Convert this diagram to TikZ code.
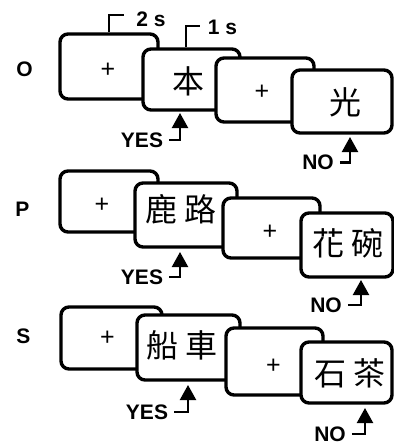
\documentclass[tikz,border=0pt]{standalone}
\usepackage{fontspec}
\setmainfont{Liberation Sans}
\newfontfamily\cjk{Noto Sans CJK TC}
\usetikzlibrary{arrows.meta,calc}
\begin{document}
\begin{tikzpicture}[x=1pt,y=-1pt,
  trial/.style={draw=black, line width=3.4pt, fill=white, rounded corners=8pt, inner sep=0pt},
  lbl/.style={font=\fontsize{21}{21}\selectfont\bfseries, inner sep=0pt},
  tlbl/.style={font=\fontsize{21}{21}\selectfont\bfseries, inner sep=0pt},
  fix/.style={font=\fontsize{25}{25}\selectfont, inner sep=0pt},
  word/.style={font=\cjk\fontsize{32}{32}\selectfont, inner sep=0pt},
  brk/.style={line width=2.2pt},
  resp/.style={line width=2.2pt, shorten <=6pt, -{Triangle[width=16pt,length=15pt]}},
]
\useasboundingbox (0,0) rectangle (394,445);
% ---------- Row O ----------
\node[lbl] (lO) at (24.5,69) {O};
\node[trial, minimum width=98pt, minimum height=65pt] (O1) at (109,66.5) {};
\node[fix] (o1t) at (108,70) {+};
\node[trial, minimum width=97pt, minimum height=61pt] (O2) at (191.5,79.5) {};
\node[word] (o2t) at (188,81) {本};
\node[trial, minimum width=98pt, minimum height=64pt] (O3) at (265,90) {};
\node[fix] (o3t) at (262,92) {+};
\node[trial, minimum width=100pt, minimum height=63pt] (O4) at (342,101.5) {};
\node[word] (o4t) at (345,102) {光};
% timing brackets
\node[tlbl] (t2) at (151,19) {2 s};
\draw[brk] (O1.north) |- ++(15,-17) coordinate (t2end);
\node[tlbl] (t1) at (222.5,27) {1 s};
\draw[brk] ($(O2.north)+(-5.5,0)$) |- ++(14,-21) coordinate (t1end);
% responses
\coordinate (oyT) at (180,113);
\node[lbl] (oy) at (142,140) {YES};
\draw[resp] (oy.east) -| (oyT);
\coordinate (onT) at (350,137);
\node[lbl] (on) at (318,162.5) {NO};
\draw[resp] (on.east) -| (onT);
% ---------- Row P ----------
\node[lbl] (lP) at (22.5,209) {P};
\node[trial, minimum width=98pt, minimum height=61pt] (P1) at (109,201.5) {};
\node[fix] (p1t) at (102,205) {+};
\node[trial, minimum width=102pt, minimum height=64pt] (P2) at (186,215) {};
\node[word] (p2t) at (181,209) {鹿 路};
\node[trial, minimum width=97pt, minimum height=60pt] (P3) at (271.5,228) {};
\node[fix] (p3t) at (270,232.5) {+};
\node[trial, minimum width=92pt, minimum height=64pt] (P4) at (347,245) {};
\node[word] (p4t) at (348,243) {花 碗};
\coordinate (pyT) at (180,252);
\node[lbl] (py) at (142,277) {YES};
\draw[resp] (py.east) -| (pyT);
\coordinate (pnT) at (361,280);
\node[lbl] (pn) at (326,305) {NO};
\draw[resp] (pn.east) -| (pnT);
% ---------- Row S ----------
\node[lbl] (lS) at (23.5,336.5) {S};
\node[trial, minimum width=101pt, minimum height=62pt] (S1) at (111.5,338) {};
\node[fix] (s1t) at (107.5,338) {+};
\node[trial, minimum width=103pt, minimum height=65pt] (S2) at (188.5,347.5) {};
\node[word] (s2t) at (182,345) {船 車};
\node[trial, minimum width=97pt, minimum height=67pt] (S3) at (274.5,361.5) {};
\node[fix] (s3t) at (273.5,366.5) {+};
\node[trial, minimum width=91pt, minimum height=61pt] (S4) at (346.5,372.5) {};
\node[word] (s4t) at (350,373) {石 茶};
\coordinate (syT) at (188,385);
\node[lbl] (sy) at (147,412) {YES};
\draw[resp] (sy.east) -| (syT);
\coordinate (snT) at (365,408);
\node[lbl] (sn) at (330,434) {NO};
\draw[resp] (sn.east) -| (snT);
\end{tikzpicture}
\end{document}
